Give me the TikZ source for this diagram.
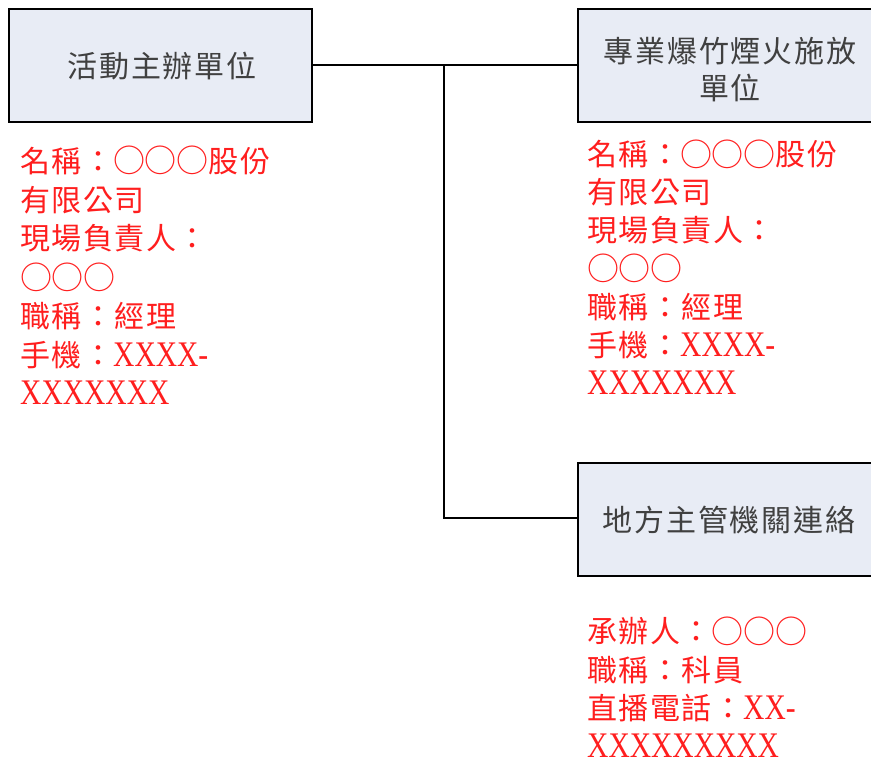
\documentclass[tikz,border=0pt]{standalone}
\usepackage{fontspec}
\setmainfont{Liberation Serif}
\newfontfamily\cjk{Noto Sans CJK TC}[LetterSpace=5]
\newfontfamily\cjkcircle{Noto Sans CJK TC}[LetterSpace=-1]
\newfontfamily\cjklabel{Noto Sans CJK TC}[LetterSpace=6]
\newfontfamily\latinf{Liberation Serif}[FakeStretch=0.82]
\newcommand\latx[1]{{\latinf\fontsize{36}{36}\selectfont #1}}
\newcommand\circs[1]{\raisebox{-0.6pt}{\cjkcircle\fontsize{32}{32}\selectfont #1}}
\definecolor{boxfill}{RGB}{232,236,245}
\definecolor{labelgray}{RGB}{64,64,64}
\definecolor{infored}{RGB}{255,30,30}
\begin{document}
\begin{tikzpicture}[x=1pt,y=-1pt,
  unitbox/.style={draw=black,line width=1.4pt,fill=boxfill},
  boxlabel/.style={text=labelgray,font=\cjklabel\fontsize{30}{30}\selectfont,inner sep=0pt},
  info/.style={text=infored,font=\cjk\fontsize{30}{30}\selectfont,inner sep=0pt,anchor=base west},
  link/.style={draw=black,line width=1.2pt}]
\useasboundingbox (0,0) rectangle (871,762);
% boxes
\draw[unitbox] (9,9) rectangle (312,122);
\draw[unitbox] (578,9) rectangle (885,122);
\draw[unitbox] (578,463) rectangle (885,576);
\coordinate (b1e) at (312,65);
\coordinate (b2w) at (578,65);
\coordinate (b3w) at (578,518);
\coordinate (junction) at (444,65);
\node[boxlabel] (l1) at (162,66) {活動主辦單位};
\node[boxlabel] (l2a) at (730,51) {專業爆竹煙火施放};
\node[boxlabel] (l2b) at (730,88) {單位};
\node[boxlabel] (l3) at (729,520) {地方主管機關連絡};
% connectors
\draw[link] (b1e) -- (b2w);
\draw[link] (junction) |- (b3w);
% left info
\node[info] (a1) at (20,172.4) {名稱：\circs{○○○}股份};
\node[info] (a2) at (20,211.2) {有限公司};
\node[info] (a3) at (20,250.0) {現場負責人：};
\node[info] (a4) at (20,288.8) {\circs{○○○}};
\node[info] (a5) at (20,327.6) {職稱：經理};
\node[info] (a6) at (20,366.4) {手機：\latx{XXXX-}};
\node[info] (a7) at (20,404.0) {\latx{XXXXXXX}};
% right info
\node[info] (b1) at (587,165.5) {名稱：\circs{○○○}股份};
\node[info] (b2) at (587,203.7) {有限公司};
\node[info] (b3) at (587,241.9) {現場負責人：};
\node[info] (b4) at (587,280.1) {\circs{○○○}};
\node[info] (b5) at (587,318.3) {職稱：經理};
\node[info] (b6) at (587,356.5) {手機：\latx{XXXX-}};
\node[info] (b7) at (587,395.0) {\latx{XXXXXXX}};
% bottom info
\node[info] (c1) at (587,642.4) {承辦人：\circs{○○○}};
\node[info] (c2) at (587,681.4) {職稱：科員};
\node[info] (c3) at (587,719.7) {直播電話：\latx{XX-}};
\node[info] (c4) at (587,757.0) {\latx{XXXXXXXXX}};
\end{tikzpicture}
\end{document}
